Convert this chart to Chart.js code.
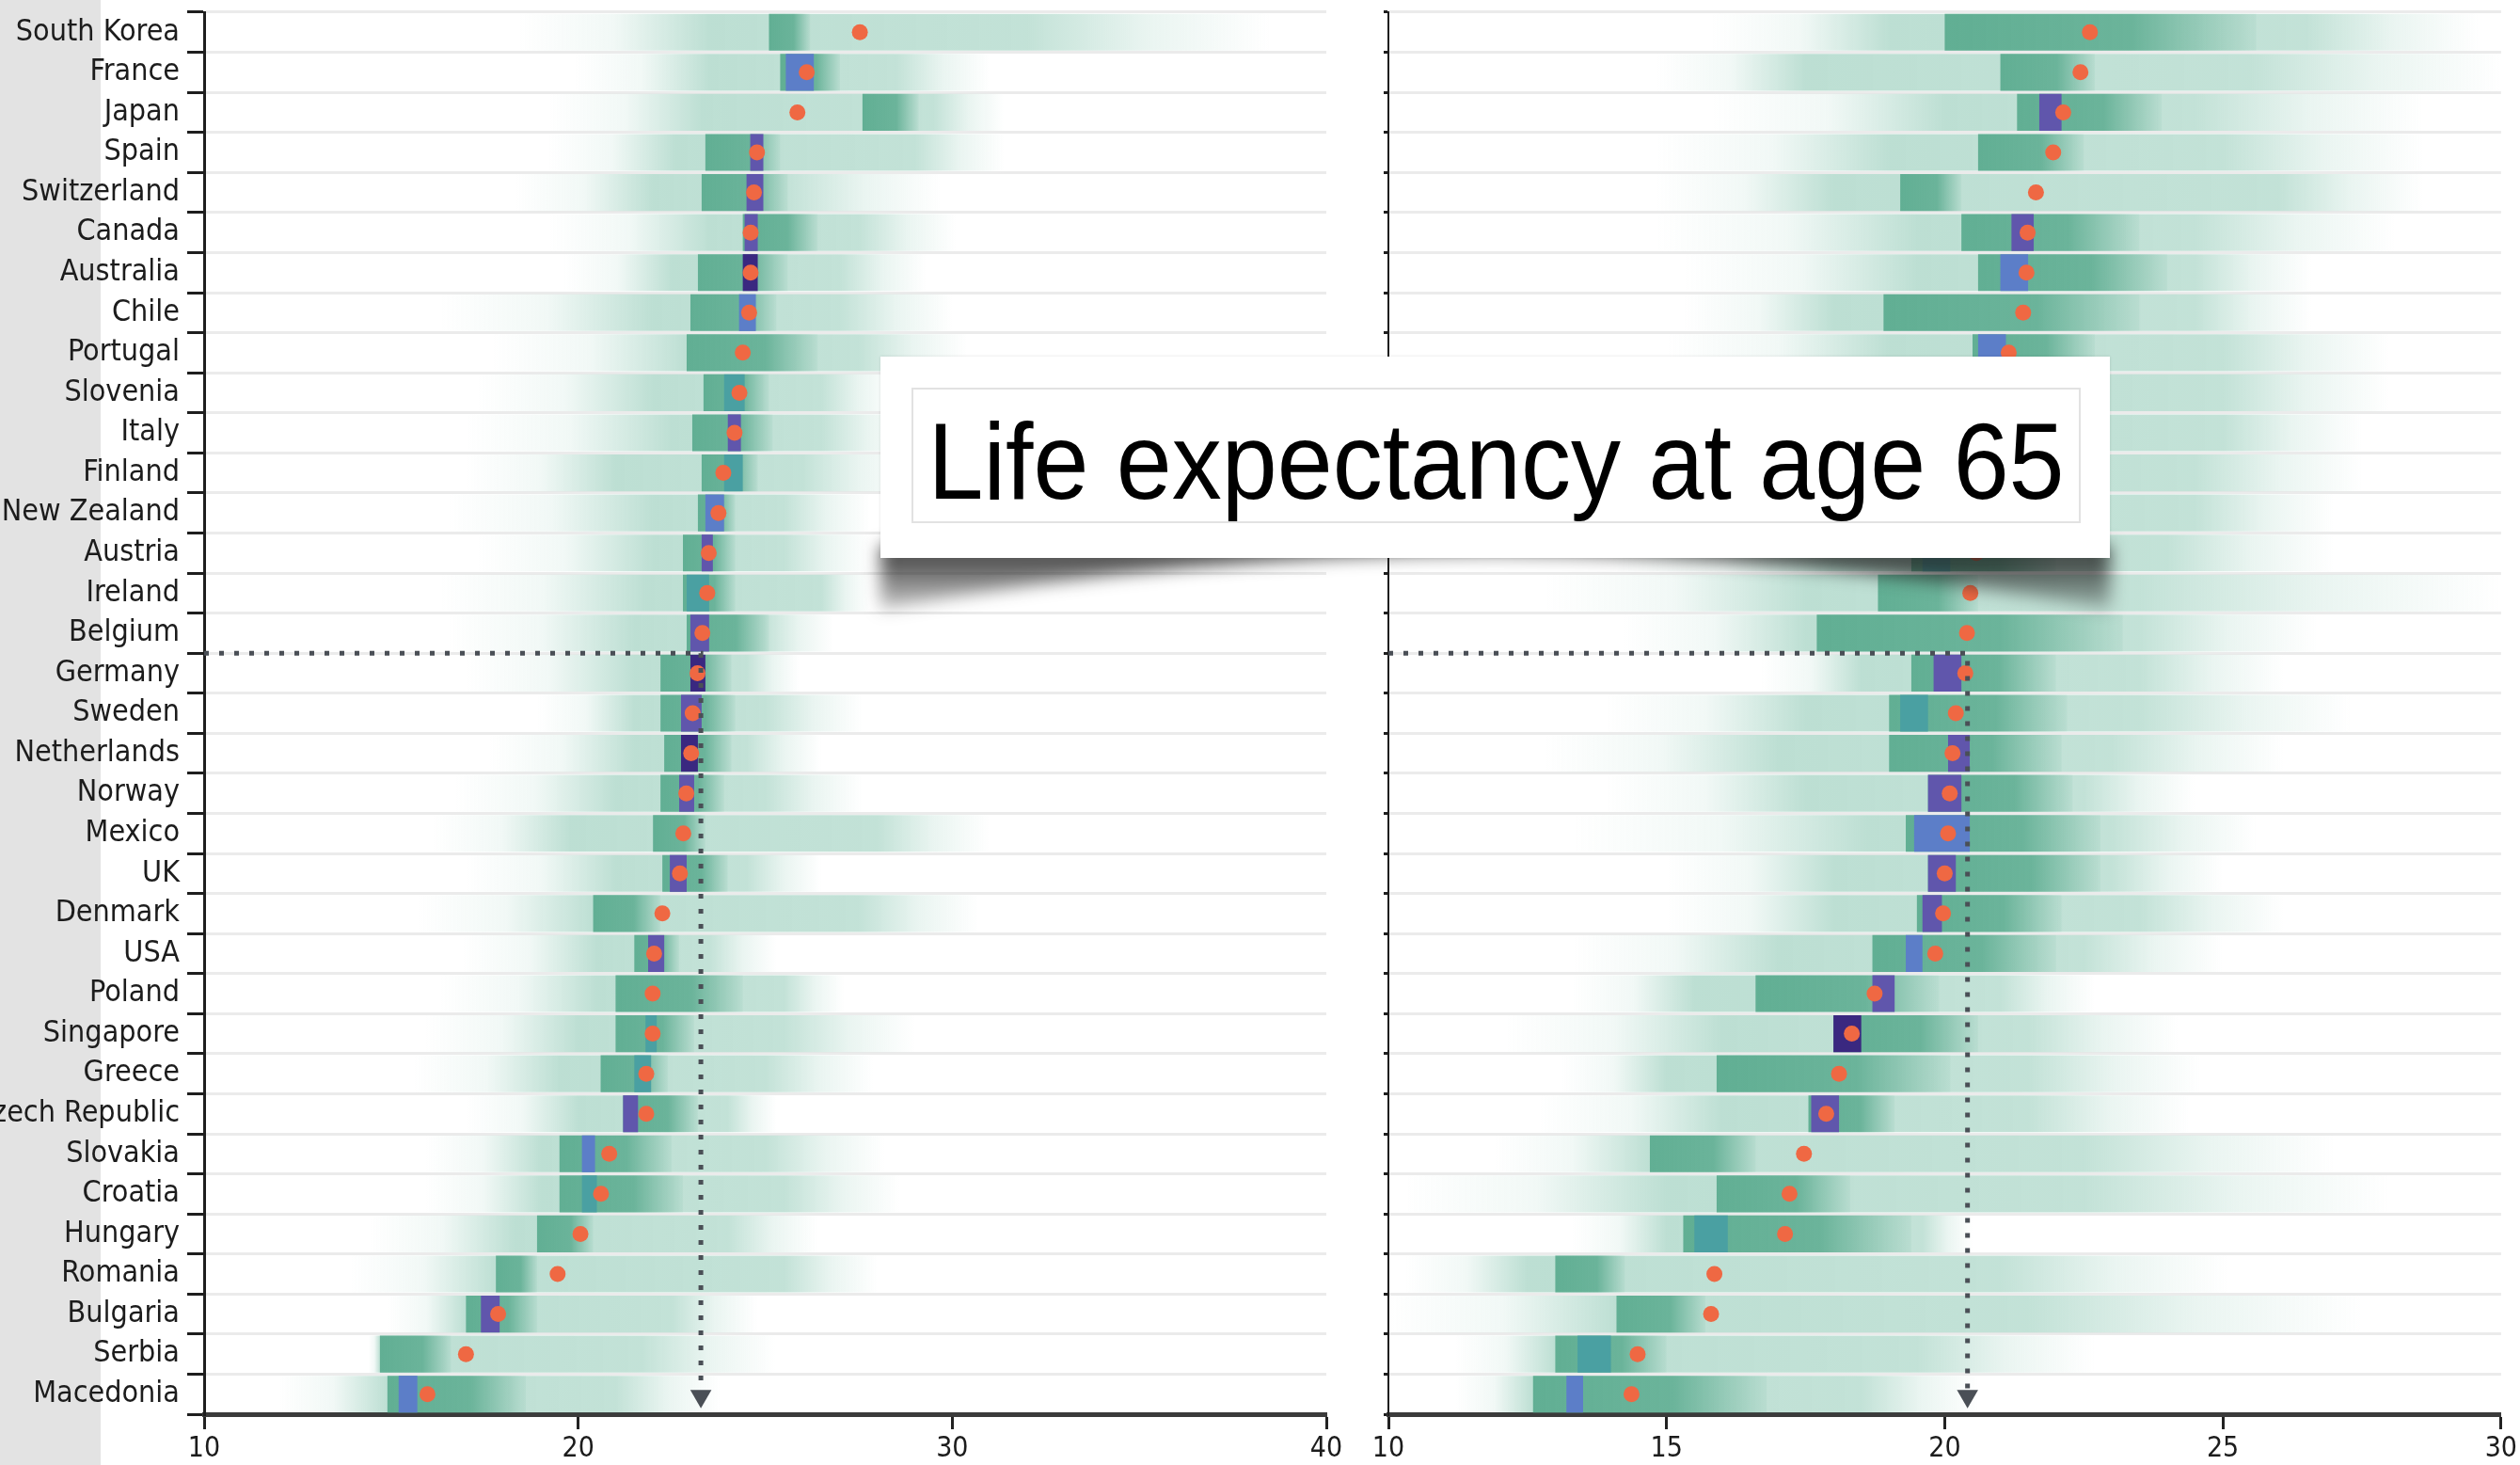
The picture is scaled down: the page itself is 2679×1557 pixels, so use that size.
<!DOCTYPE html>
<html>
<head>
<meta charset="utf-8">
<title>Life expectancy at age 65</title>
<script src="https://cdn.jsdelivr.net/npm/chart.js@4.4.1/dist/chart.umd.min.js"></script>
<style>
  html, body { margin: 0; padding: 0; background: #fff; }
  body { position: relative; width: 2679px; height: 1557px; overflow: hidden; }
  #strip { position: absolute; left: 0; top: 0; width: 107px; height: 1557px; background: #e3e3e3; }
  #wrapL { position: absolute; left: 0; top: 0; }
  #wrapR { position: absolute; left: 1445px; top: 0; }
  #shade { position: absolute; left: 900px; top: 540px; }
  #title { position: absolute; left: 936px; top: 379px; width: 1307px; height: 214px; background: #fff; box-shadow: 0 0 3px rgba(0,0,0,0.12); }
  #titleInner { position: absolute; left: 33px; top: 33px; width: 1239px; height: 140px; border: 2px solid #e2e2e2;
                display: flex; align-items: center; justify-content: center; }
  #titleInner span { display: inline-block; font-family: 'Liberation Sans', Arial, sans-serif; font-size: 106px; line-height: 1;
                     color: #000; white-space: nowrap; transform: translateY(6px) scaleY(1.09); }
</style>
</head>
<body>
<div id="strip"></div>
<div id="wrapL"><canvas id="women" width="1445" height="1557"></canvas></div>
<div id="wrapR"><canvas id="men" width="1234" height="1557"></canvas></div>
<canvas id="shade" width="1400" height="160"></canvas>
<div id="title"><div id="titleInner"><span>Life expectancy at age 65</span></div></div>

<script>
const countries = ['South Korea', 'France', 'Japan', 'Spain', 'Switzerland', 'Canada', 'Australia', 'Chile',
  'Portugal', 'Slovenia', 'Italy', 'Finland', 'New Zealand', 'Austria', 'Ireland', 'Belgium', 'Germany',
  'Sweden', 'Netherlands', 'Norway', 'Mexico', 'UK', 'Denmark', 'USA', 'Poland', 'Singapore', 'Greece',
  'Czech Republic', 'Slovakia', 'Croatia', 'Hungary', 'Romania', 'Bulgaria', 'Serbia', 'Macedonia'];

// left panel (women): projected value + spread of the model ensemble
const womenDot = [27.53, 26.11, 25.86, 24.78, 24.70, 24.61, 24.61, 24.57, 24.40, 24.31, 24.18, 23.88, 23.75,
  23.49, 23.45, 23.32, 23.19, 23.06, 23.02, 22.89, 22.81, 22.72, 22.25, 22.03, 21.99, 21.99, 21.82, 21.82,
  20.83, 20.61, 20.06, 19.45, 17.86, 17.00, 15.97];
const womenTail = [[18.4, 38.5], [19.9, 31.0], [19.2, 31.4], [19.2, 31.4], [18.3, 29.7], [19.2, 30.1],
  [19.6, 29.3], [16.3, 30.0], [17.7, 30.4], [17.3, 28.5], [17.0, 29.0], [17.0, 29.0], [16.5, 27.8],
  [17.3, 27.8], [16.3, 27.8], [16.5, 26.8], [17.0, 25.9], [18.9, 27.6], [17.6, 26.5], [16.7, 27.6],
  [16.1, 31.0], [17.0, 26.5], [15.7, 30.7], [16.9, 25.3], [16.3, 27.1], [15.9, 29.0], [15.6, 27.9],
  [17.0, 25.3], [15.9, 28.2], [15.9, 28.6], [14.4, 26.4], [13.9, 28.0], [14.9, 24.8], [14.4, 25.3], [12.0, 23.8]];
const womenSpread = [[23.5, 32.0], [23.5, 28.5], [23.3, 29.5], [22.6, 29.0], [22.0, 25.6], [23.5, 27.5],
  [22.5, 27.0], [22.0, 27.0], [22.9, 27.5], [22.0, 26.5], [22.5, 26.5], [21.0, 26.0], [22.0, 25.5],
  [22.0, 25.5], [21.8, 26.5], [21.5, 25.0], [21.5, 24.5], [21.5, 25.0], [21.5, 24.5], [21.0, 25.0],
  [19.8, 28.0], [21.0, 24.5], [20.4, 27.5], [20.5, 23.5], [20.5, 25.5], [20.0, 25.5], [19.5, 25.0],
  [20.0, 24.0], [19.0, 25.0], [19.0, 25.5], [18.3, 24.0], [17.8, 25.5], [17.0, 22.5], [14.7, 21.7], [14.9, 21.0]];
const womenCore = [[25.1, 26.2], [25.4, 27.0], [27.6, 29.1], [23.4, 25.4], [23.3, 25.6], [24.4, 26.4],
  [23.2, 25.6], [23.0, 25.3], [22.9, 26.4], [23.35, 25.1], [23.05, 25.2], [23.3, 24.8], [23.2, 24.2],
  [22.8, 24.2], [22.8, 24.2], [22.9, 25.1], [22.2, 24.1], [22.2, 24.2], [22.3, 24.1], [22.2, 23.9],
  [22.0, 23.4], [22.25, 24.0], [20.4, 22.2], [21.5, 22.7], [21.0, 24.4], [21.0, 23.1], [20.6, 22.4],
  [21.2, 23.2], [19.5, 22.5], [19.5, 22.8], [18.9, 20.4], [17.8, 18.9], [17.0, 18.9], [14.7, 16.6], [14.9, 18.6]];
const womenPeak = [null, [25.55, 26.3], null, [24.6, 24.95], [24.5, 24.95], [24.45, 24.8], [24.4, 24.8],
  [24.3, 24.75], null, [23.9, 24.45], [24.0, 24.35], [23.9, 24.4], [23.4, 23.9], [23.3, 23.6], [22.9, 23.5],
  [23.0, 23.5], [23.0, 23.4], [22.75, 23.3], [22.75, 23.2], [22.7, 23.1], null, [22.45, 22.9], null,
  [21.87, 22.3], null, [21.8, 22.1], [21.5, 21.95], [21.2, 21.6], [20.1, 20.45], [20.1, 20.5], null, null,
  [17.4, 17.9], null, [15.2, 15.7]];
const womenShade = [null, 'blue', null, 'purple', 'purple', 'purple', 'deep', 'blue', null, 'teal', 'purple',
  'teal', 'blue', 'purple', 'teal', 'purple', 'deep', 'purple', 'deep', 'purple', null, 'purple', null,
  'purple', null, 'teal', 'teal', 'purple', 'blue', 'teal', null, null, 'purple', null, 'blue'];

// right panel (men)
const menDot = [22.61, 22.44, 22.13, 21.95, 21.64, 21.49, 21.47, 21.41, 21.15, 21.00, 20.90, 20.78, 20.68,
  20.57, 20.46, 20.40, 20.37, 20.20, 20.14, 20.09, 20.06, 20.00, 19.97, 19.83, 18.74, 18.33, 18.10, 17.87,
  17.47, 17.21, 17.13, 15.86, 15.80, 14.48, 14.37];
const menTail = [[15.8, 29.6], [14.8, 30.0], [15.8, 28.6], [14.8, 28.6], [14.8, 28.6], [14.8, 28.1],
  [15.3, 26.6], [15.3, 26.6], [15.0, 28.0], [14.8, 28.0], [14.5, 27.5], [14.5, 27.5], [14.5, 27.0],
  [14.0, 27.0], [12.8, 30.0], [14.2, 26.7], [16.7, 26.1], [13.9, 27.3], [12.8, 26.1], [13.9, 24.5],
  [13.3, 25.6], [15.0, 25.0], [15.0, 26.1], [13.3, 25.0], [13.3, 22.7], [12.1, 24.2], [13.1, 24.6],
  [12.7, 24.4], [11.9, 27.0], [10.3, 28.0], [13.3, 20.5], [10.3, 25.1], [10.0, 27.5], [11.2, 22.7], [11.2, 20.6]];
const menSpread = [[19.0, 26.5], [17.5, 25.5], [20.0, 24.5], [19.0, 25.0], [18.0, 26.0], [19.5, 24.5],
  [19.5, 24.5], [18.0, 24.5], [19.0, 25.0], [18.5, 25.0], [18.5, 25.0], [18.0, 24.5], [18.5, 24.5],
  [18.0, 24.0], [17.5, 23.5], [17.5, 23.5], [18.5, 23.5], [17.5, 23.5], [17.0, 23.0], [17.5, 22.5],
  [18.6, 23.0], [18.0, 23.0], [18.0, 23.5], [17.0, 22.5], [15.5, 21.0], [16.0, 21.5], [15.0, 21.5],
  [16.0, 21.5], [14.7, 22.5], [15.0, 22.5], [15.0, 19.6], [12.5, 21.0], [14.1, 21.5], [13.0, 19.5], [12.6, 18.5]];
const menCore = [[20.0, 25.6], [21.0, 22.7], [21.3, 23.9], [20.6, 22.5], [19.2, 20.3], [20.3, 23.5],
  [20.6, 24.0], [18.9, 23.5], [20.5, 22.7], [19.8, 22.3], [20.2, 22.5], [19.5, 22.0], [19.8, 22.5],
  [19.4, 22.0], [18.8, 20.6], [17.7, 23.2], [19.4, 22.0], [19.0, 22.2], [19.0, 22.1], [19.7, 22.3],
  [19.3, 22.8], [19.7, 22.8], [19.5, 22.1], [18.7, 22.0], [16.6, 19.9], [18.0, 20.6], [15.9, 20.1],
  [17.55, 19.1], [14.7, 16.6], [15.9, 18.3], [15.3, 19.4], [13.0, 14.25], [14.1, 15.7], [13.0, 15.0], [12.6, 16.8]];
const menPeak = [null, null, [21.7, 22.1], null, null, [21.2, 21.6], [21.0, 21.5], null, [20.6, 21.1], null,
  [20.3, 20.7], null, [20.0, 20.4], [19.6, 20.1], null, null, [19.8, 20.3], [19.2, 19.7], [20.06, 20.45],
  [19.7, 20.3], [19.45, 20.45], [19.7, 20.2], [19.6, 19.95], [19.3, 19.6], [18.7, 19.1], [18.0, 18.5], null,
  [17.6, 18.1], null, null, [15.5, 16.1], null, null, [13.4, 14.0], [13.2, 13.5]];
const menShade = [null, null, 'purple', null, null, 'purple', 'blue', null, 'blue', null, 'blue', null,
  'blue', 'teal', null, null, 'purple', 'teal', 'purple', 'purple', 'blue', 'purple', 'purple', 'blue',
  'purple', 'deep', null, 'purple', null, null, 'teal', null, null, 'teal', 'blue'];

// dotted marker: value at the Belgium/Germany boundary, arrow down to the axis
const womenRef = 23.28;
const menRef = 20.41;
const refRow = 15.5;
const arrowRow = 34.05;

const INK = '#4a4f56';
const DOT = '#ef6843';
const SHADES = { teal: 'rgb(74,160,162)', blue: 'rgb(92,126,200)', purple: 'rgb(96,86,172)', deep: 'rgb(58,40,128)' };
const green = a => 'rgba(104,182,155,' + a + ')';
const darkGreen = a => 'rgba(92,172,144,' + a + ')';

Chart.defaults.font.family = "'DejaVu Sans Condensed', 'Liberation Sans Narrow', 'DejaVu Sans', sans-serif";
Chart.defaults.color = '#1c1c1c';

function tailFill(tail, spread) {
  return function (c) {
    const i = c.dataIndex, chart = c.chart;
    if (!chart.chartArea || !tail[i]) return 'rgba(0,0,0,0)';
    const sx = chart.scales.x;
    const a = sx.getPixelForValue(tail[i][0]);
    const b = sx.getPixelForValue(tail[i][1]);
    const at = v => Math.min(1, Math.max(0, (sx.getPixelForValue(v) - a) / (b - a)));
    const g = chart.ctx.createLinearGradient(a, 0, b, 0);
    g.addColorStop(0, green(0));
    g.addColorStop(at((tail[i][0] + spread[i][0]) / 2), green(0.09));
    g.addColorStop(at(spread[i][0]), green(0.44));
    g.addColorStop(at(spread[i][1]), green(0.4));
    g.addColorStop(at((spread[i][1] + tail[i][1]) / 2), green(0.14));
    g.addColorStop(1, green(0));
    return g;
  };
}

function coreFill(core) {
  return function (c) {
    const i = c.dataIndex, chart = c.chart;
    if (!chart.chartArea || !core[i]) return 'rgba(0,0,0,0)';
    const sx = chart.scales.x;
    const a = sx.getPixelForValue(core[i][0]);
    const b = sx.getPixelForValue(core[i][1]);
    const g = chart.ctx.createLinearGradient(a, 0, b, 0);
    g.addColorStop(0, darkGreen(0.95));
    g.addColorStop(0.6, darkGreen(0.85));
    g.addColorStop(1, darkGreen(0.08));
    return g;
  };
}

function barSet(label, data, fill, order) {
  return {
    type: 'bar', label: label, data: data, backgroundColor: fill, order: order,
    xAxisID: 'x', yAxisID: 'y', grouped: false, borderWidth: 0,
    barPercentage: 0.92, categoryPercentage: 1
  };
}

function buildPanel(id, p) {
  new Chart(document.getElementById(id), {
    type: 'bar',
    data: {
      labels: countries,
      datasets: [
        {
          type: 'line', label: 'reference', indexAxis: 'x', xAxisID: 'x', yAxisID: 'yr', order: 0,
          data: [{ x: p.xMin, y: refRow }, { x: p.ref, y: refRow }, { x: p.ref, y: arrowRow }],
          borderColor: INK, borderWidth: 5, borderDash: [5, 11], tension: 0, fill: false,
          pointRadius: [0, 0, 13], pointStyle: 'triangle', pointRotation: 180,
          pointBackgroundColor: INK, pointBorderWidth: 0
        },
        {
          type: 'line', label: 'projection', indexAxis: 'x', xAxisID: 'x', yAxisID: 'yr', order: 1,
          data: p.dot.map((v, i) => ({ x: v, y: i })), showLine: false,
          pointRadius: 8.5, pointBackgroundColor: DOT, pointBorderWidth: 0
        },
        barSet('peak', p.peak, c => SHADES[p.shade[c.dataIndex]] || 'rgba(0,0,0,0)', 2),
        barSet('core', p.core, coreFill(p.core), 3),
        barSet('spread', p.tail, tailFill(p.tail, p.spread), 4)
      ]
    },
    options: {
      responsive: false,
      animation: false,
      events: [],
      indexAxis: 'y',
      layout: { padding: { top: 10, right: p.padRight, left: 0, bottom: 0 } },
      plugins: { legend: { display: false }, tooltip: { enabled: false } },
      scales: {
        x: {
          type: 'linear', position: 'bottom', min: p.xMin, max: p.xMax, offset: false,
          ticks: { stepSize: p.step, font: { size: 30 }, padding: 3, maxRotation: 0, autoSkip: false },
          grid: { drawOnChartArea: false, drawTicks: true, tickLength: 16, tickWidth: 3, tickColor: '#222' },
          border: { display: true, color: '#3b3b3b', width: 5 },
          afterFit: s => { s.height = 54; }
        },
        y: {
          type: 'category', position: 'left', offset: true,
          ticks: { display: p.showLabels, autoSkip: false, padding: 8, font: { size: 32 } },
          grid: { offset: true, color: '#ebebeb', lineWidth: 3, drawTicks: true,
                  tickLength: p.tickLen, tickWidth: 3, tickColor: '#1e1e1e' },
          border: { display: true, color: '#1e1e1e', width: p.axisW },
          afterFit: s => { s.width = p.yWidth; s.paddingTop = 0; s.paddingBottom = 0; }
        },
        yr: { type: 'linear', display: false, offset: false, min: -0.5, max: 34.5, reverse: true }
      }
    }
  });
}

buildPanel('women', {
  dot: womenDot, tail: womenTail, spread: womenSpread, core: womenCore, peak: womenPeak, shade: womenShade,
  ref: womenRef, xMin: 10, xMax: 40, step: 10, padRight: 35, yWidth: 217, tickLen: 18, axisW: 3, showLabels: true
});
buildPanel('men', {
  dot: menDot, tail: menTail, spread: menSpread, core: menCore, peak: menPeak, shade: menShade,
  ref: menRef, xMin: 10, xMax: 30, step: 5, padRight: 14, yWidth: 31, tickLen: 5, axisW: 2, showLabels: false
});

// curled drop shadow under the title card
const sh = document.getElementById('shade').getContext('2d');
const shGrad = sh.createLinearGradient(0, 40, 0, 112);
shGrad.addColorStop(0, 'rgba(30,30,30,0.9)');
shGrad.addColorStop(1, 'rgba(30,30,30,0.2)');
sh.filter = 'blur(9px)';
sh.fillStyle = shGrad;
sh.beginPath();
sh.moveTo(36, 40);
sh.lineTo(1343, 40);
sh.lineTo(1343, 108);
sh.quadraticCurveTo(690, -12, 36, 108);
sh.closePath();
sh.fill();
</script>
</body>
</html>
